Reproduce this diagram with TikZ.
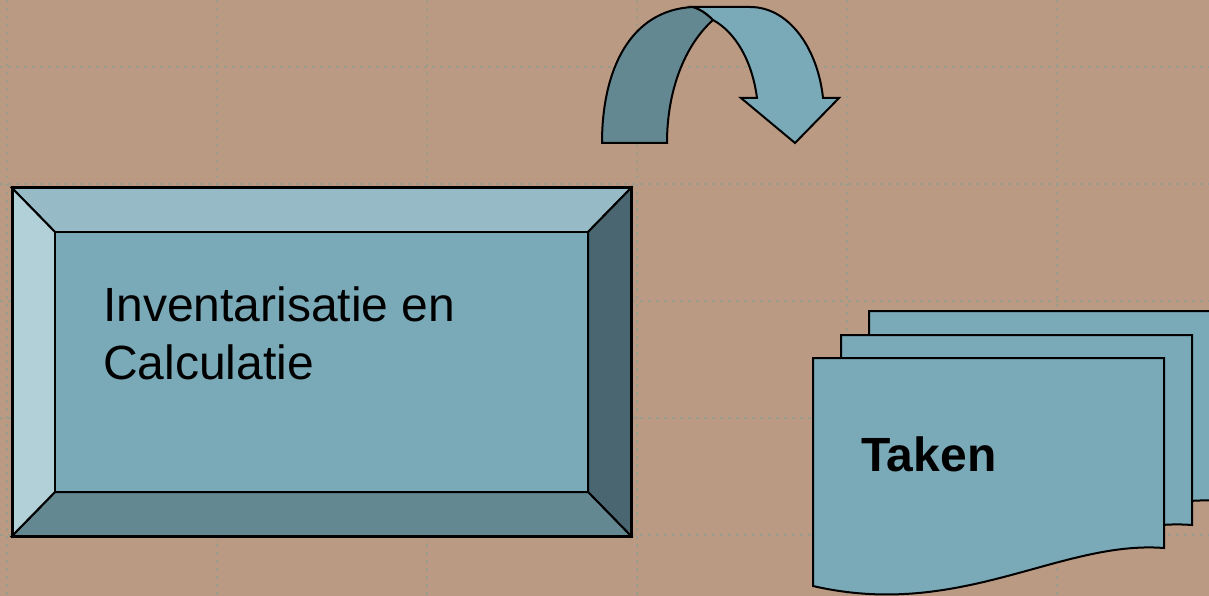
\documentclass[tikz,border=0pt]{standalone}
\usepackage{fontspec}
\setmainfont{Liberation Sans}
\usepackage{tikz}
\usetikzlibrary{positioning,calc}
\definecolor{sand}{HTML}{BA9A82}
\definecolor{guide}{HTML}{9C9C8C}
\definecolor{face}{HTML}{7AAAB8}
\definecolor{bevtop}{HTML}{96BAC6}
\definecolor{bevleft}{HTML}{B2D0D8}
\definecolor{bevright}{HTML}{4A6670}
\definecolor{bevbottom}{HTML}{648892}
\colorlet{docfill}{face}
\colorlet{fold}{bevbottom}

\begin{document}
\begin{tikzpicture}[x=1pt,y=-1pt,line join=miter,
    panel/.style={draw=black,line width=2pt},
    docbox/.style={fill=docfill,draw=black,line width=2pt},
    gridline/.style={guide,line width=2pt,dash pattern=on 2.5pt off 5.5pt}]
    \fill[sand] (0,0) rectangle (1209,596);
    \useasboundingbox (0,0) rectangle (1209,596);
    \clip (0,0) rectangle (1209,596);

    % guides
    \foreach \gx in {7,217,427,637,847,1057}
        \draw[gridline] (\gx,0) -- (\gx,596);
    \foreach \gy in {67,184,301,418,535}
        \draw[gridline] (0,\gy) -- (1209,\gy);

    % bevelled box
    \coordinate (o1) at (12,188);  \coordinate (o2) at (631,188);
    \coordinate (o3) at (631,536); \coordinate (o4) at (12,536);
    \coordinate (i1) at (55,232);  \coordinate (i2) at (588,232);
    \coordinate (i3) at (588,492); \coordinate (i4) at (55,492);
    \filldraw[panel,fill=bevtop] (o1) -- (o2) -- (i2) -- (i1) -- cycle;
    \filldraw[panel,fill=bevright] (o2) -- (o3) -- (i3) -- (i2) -- cycle;
    \filldraw[panel,fill=bevbottom] (o3) -- (o4) -- (i4) -- (i3) -- cycle;
    \filldraw[panel,fill=bevleft] (o4) -- (o1) -- (i1) -- (i4) -- cycle;
    \filldraw[panel,fill=face] (i1) rectangle (i3);
    \draw[black,line width=3pt] (o1) rectangle (o3);
    \node[anchor=base west,inner sep=0pt,align=left,
          font=\fontsize{48}{58}\selectfont] (inv) at (103,379)
        {Inventarisatie en\\Calculatie};

    % curved arrow
    \filldraw[panel,fill=fold] (602,143) .. controls (602,70) and (630,10) .. (693,7)
        .. controls (700,9) and (706,13) .. (713,20)
        .. controls (685,45) and (667,90) .. (667,143) -- cycle;
    \filldraw[panel,fill=face] (693,7) -- (750,7)
        .. controls (790,7) and (818,50) .. (823,98)
        -- (839,98) -- (795,143) -- (741,98) -- (757,98)
        .. controls (752,60) and (735,32) .. (713,20)
        .. controls (706,13) and (700,9) .. (693,7) -- cycle;

    % stacked documents
    \foreach \dx/\dy in {56/-47,28/-23,0/0}
        \filldraw[docbox,shift={(\dx,\dy)}] (813,358) -- (1164,358) -- (1164,548)
            .. controls (1060,540) and (960,620) .. (813,586) -- cycle;
    \node[anchor=base west,inner sep=0pt,
          font=\fontsize{48}{58}\selectfont\bfseries] (taken) at (861,471) {Taken};
\end{tikzpicture}
\end{document}
